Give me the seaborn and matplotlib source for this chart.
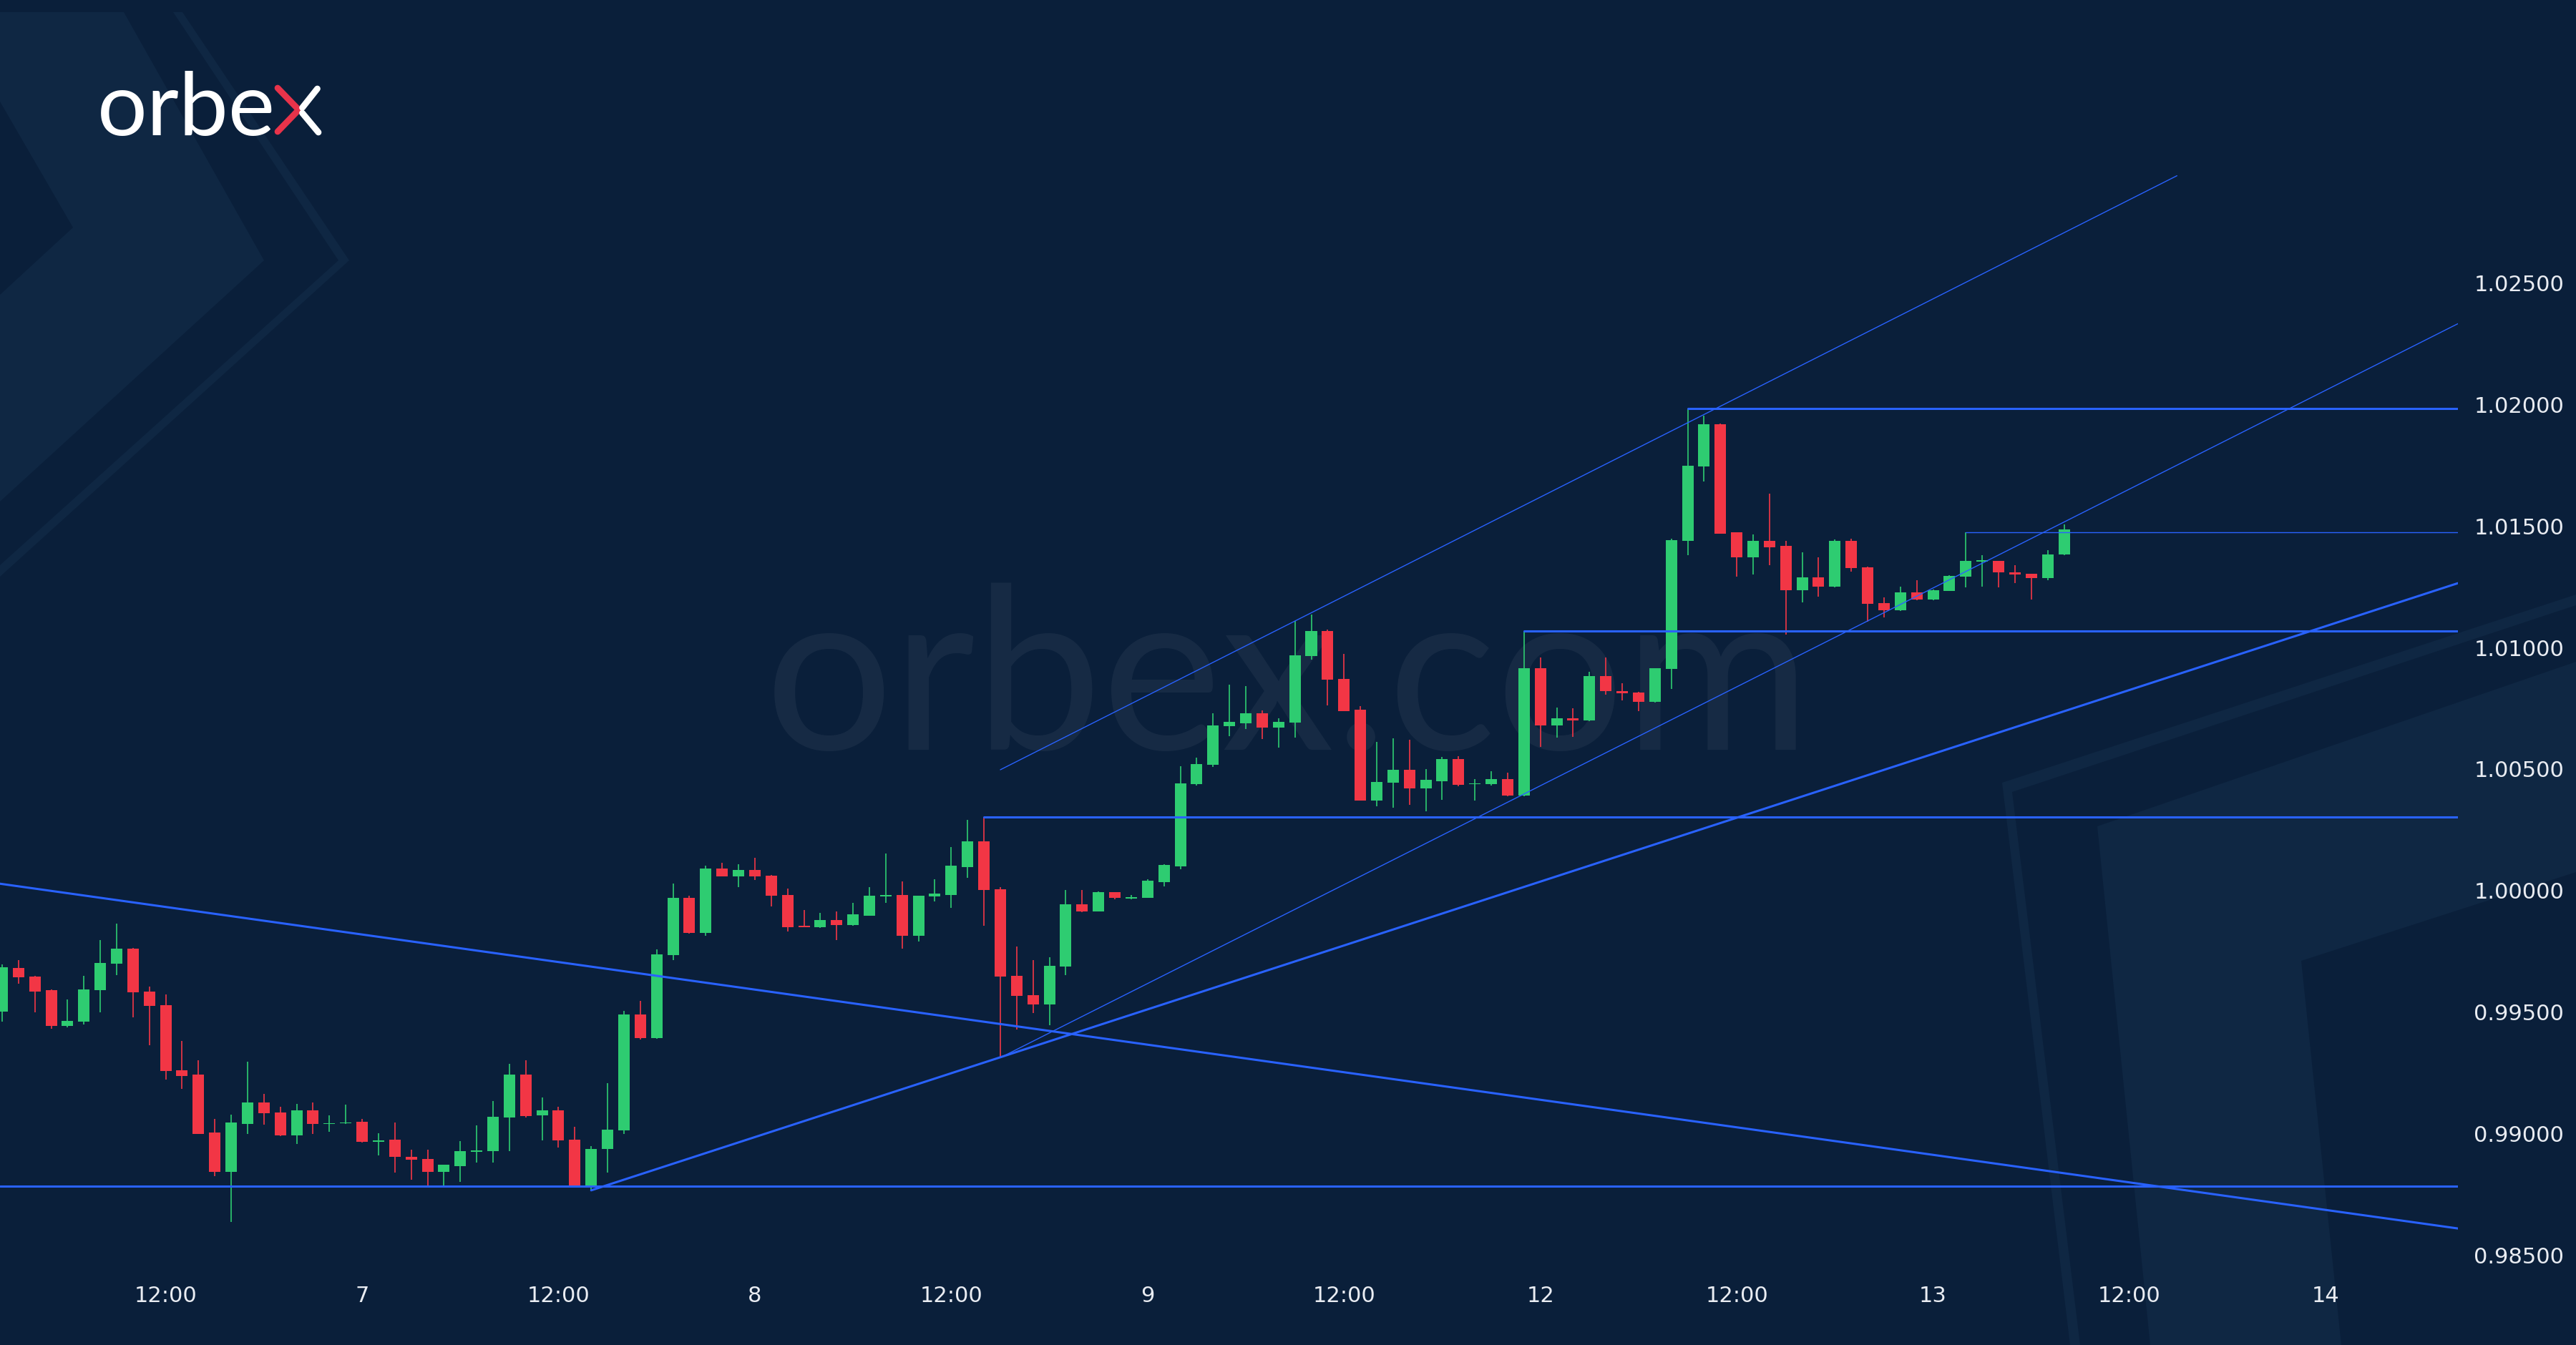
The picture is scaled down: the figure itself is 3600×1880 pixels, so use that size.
import numpy as np
import pandas as pd
import matplotlib
matplotlib.use("Agg")
import matplotlib.pyplot as plt
from matplotlib.patches import Polygon
from matplotlib.lines import Line2D
import seaborn as sns

# %% hourly EUR/USD candles, 6 Sep 02:00 -> 13 Sep 08:00
opens = [0.99498, 0.99679, 0.99642, 0.99586, 0.99439, 0.99456, 0.99588, 0.99695, 0.99759, 0.99582,
         0.99526, 0.99257, 0.99240, 0.99002, 0.98840, 0.99036, 0.99124, 0.99084, 0.98988, 0.99092,
         0.99036, 0.99039, 0.99045, 0.98964, 0.98972, 0.98902, 0.98893, 0.98840, 0.98862, 0.98921,
         0.98923, 0.99064, 0.99240, 0.99073, 0.99092, 0.98972, 0.98780, 0.98932, 0.99011, 0.99487,
         0.99391, 0.99730, 0.99967, 0.99821, 1.00088, 1.00055, 1.00083, 1.00057, 0.99979, 0.99852,
         0.99846, 0.99876, 0.99855, 0.99894, 0.99973, 0.99979, 0.99812, 0.99972, 0.99979, 1.00094,
         1.00198, 1.00002, 0.99647, 0.99565, 0.99529, 0.99684, 0.99941, 0.99911, 0.99989, 0.99965,
         0.99968, 1.00033, 1.00097, 1.00435, 1.00514, 1.00672, 1.00685, 1.00725, 1.00669, 1.00688,
         1.00961, 1.01066, 1.00869, 1.00740, 1.00366, 1.00442, 1.00494, 1.00416, 1.00448, 1.00538,
         1.00434, 1.00435, 1.00455, 1.00389, 1.00911, 1.00675, 1.00705, 1.00698, 1.00881, 1.00819,
         1.00813, 1.00773, 1.00909, 1.01437, 1.01743, 1.01917, 1.01470, 1.01367, 1.01437, 1.01415,
         1.01233, 1.01286, 1.01249, 1.01437, 1.01328, 1.01181, 1.01150, 1.01223, 1.01194, 1.01229,
         1.01289, 1.01352, 1.01355, 1.01308, 1.01302, 1.01283, 1.01381]
highs = [0.99693, 0.99710, 0.99645, 0.99590, 0.99549, 0.99645, 0.99794, 0.99862, 0.99762, 0.99603,
         0.99569, 0.99377, 0.99298, 0.99058, 0.99075, 0.99293, 0.99161, 0.99107, 0.99118, 0.99124,
         0.99071, 0.99115, 0.99058, 0.98998, 0.99043, 0.98929, 0.98929, 0.98867, 0.98966, 0.99031,
         0.99131, 0.99284, 0.99298, 0.99146, 0.99107, 0.99025, 0.98946, 0.99205, 0.99501, 0.99543,
         0.99755, 1.00027, 0.99977, 1.00100, 1.00111, 1.00106, 1.00132, 1.00060, 1.00005, 0.99916,
         0.99904, 0.99911, 0.99945, 1.00011, 1.00149, 1.00035, 0.99976, 1.00042, 1.00176, 1.00289,
         1.00300, 1.00011, 0.99767, 0.99712, 0.99722, 0.99999, 0.99999, 0.99993, 0.99989, 0.99980,
         1.00042, 1.00106, 1.00508, 1.00543, 1.00725, 1.00845, 1.00839, 1.00738, 1.00707, 1.01106,
         1.01132, 1.01070, 1.00970, 1.00757, 1.00609, 1.00623, 1.00617, 1.00498, 1.00547, 1.00550,
         1.00455, 1.00488, 1.00481, 1.01066, 1.00955, 1.00751, 1.00747, 1.00898, 1.00955, 1.00849,
         1.00815, 1.00913, 1.01444, 1.01980, 1.01952, 1.01920, 1.01470, 1.01463, 1.01630, 1.01437,
         1.01388, 1.01367, 1.01441, 1.01444, 1.01330, 1.01204, 1.01249, 1.01275, 1.01236, 1.01295,
         1.01470, 1.01378, 1.01355, 1.01336, 1.01302, 1.01398, 1.01503]
lows = [0.99456, 0.99614, 0.99496, 0.99428, 0.99435, 0.99447, 0.99496, 0.99648, 0.99474, 0.99360,
        0.99220, 0.99180, 0.98994, 0.98820, 0.98633, 0.98996, 0.99034, 0.98985, 0.98955, 0.98996,
        0.99005, 0.99036, 0.98960, 0.98906, 0.98836, 0.98808, 0.98780, 0.98780, 0.98797, 0.98876,
        0.98876, 0.98923, 0.99062, 0.98968, 0.98940, 0.98780, 0.98763, 0.98836, 0.98996, 0.99383,
        0.99386, 0.99712, 0.99819, 0.99812, 1.00055, 1.00011, 1.00039, 0.99932, 0.99828, 0.99845,
        0.99843, 0.99794, 0.99853, 0.99894, 0.99946, 0.99757, 0.99788, 0.99952, 0.99926, 1.00050,
        0.99852, 0.99309, 0.99425, 0.99492, 0.99443, 0.99648, 0.99907, 0.99911, 0.99962, 0.99960,
        0.99968, 1.00015, 1.00084, 1.00430, 1.00505, 1.00633, 1.00663, 1.00619, 1.00584, 1.00626,
        1.00948, 1.00760, 1.00735, 1.00366, 1.00343, 1.00337, 1.00350, 1.00324, 1.00370, 1.00426,
        1.00366, 1.00430, 1.00385, 1.00385, 1.00589, 1.00626, 1.00629, 1.00694, 1.00804, 1.00780,
        1.00734, 1.00770, 1.00826, 1.01378, 1.01680, 1.01465, 1.01288, 1.01299, 1.01336, 1.01049,
        1.01183, 1.01207, 1.01245, 1.01309, 1.01104, 1.01121, 1.01148, 1.01191, 1.01191, 1.01229,
        1.01244, 1.01249, 1.01244, 1.01262, 1.01194, 1.01275, 1.01378]
closes = [0.99682, 0.99640, 0.99582, 0.99439, 0.99460, 0.99589, 0.99698, 0.99759, 0.99578, 0.99522,
          0.99253, 0.99234, 0.98996, 0.98840, 0.99041, 0.99124, 0.99079, 0.98988, 0.99092, 0.99036,
          0.99039, 0.99043, 0.98963, 0.98969, 0.98902, 0.98890, 0.98840, 0.98867, 0.98923, 0.98926,
          0.99067, 0.99240, 0.99070, 0.99092, 0.98968, 0.98780, 0.98932, 0.99014, 0.99487, 0.99391,
          0.99733, 0.99967, 0.99821, 1.00088, 1.00055, 1.00083, 1.00055, 0.99977, 0.99846, 0.99847,
          0.99876, 0.99855, 0.99898, 0.99976, 0.99979, 0.99812, 0.99976, 0.99984, 1.00098, 1.00198,
          0.99998, 0.99644, 0.99562, 0.99529, 0.99688, 0.99941, 0.99911, 0.99989, 0.99968, 0.99968,
          1.00038, 1.00103, 1.00439, 1.00517, 1.00677, 1.00692, 1.00725, 1.00669, 1.00692, 1.00964,
          1.01066, 1.00865, 1.00735, 1.00366, 1.00444, 1.00494, 1.00416, 1.00452, 1.00538, 1.00431,
          1.00439, 1.00455, 1.00389, 1.00912, 1.00675, 1.00705, 1.00698, 1.00881, 1.00817, 1.00809,
          1.00773, 1.00911, 1.01440, 1.01746, 1.01917, 1.01467, 1.01367, 1.01437, 1.01411, 1.01233,
          1.01286, 1.01249, 1.01437, 1.01323, 1.01177, 1.01150, 1.01223, 1.01194, 1.01233, 1.01292,
          1.01354, 1.01355, 1.01308, 1.01299, 1.01283, 1.01381, 1.01483]

# time axis (candle index of each label)
time_ticks = [10, 22, 34, 46, 58, 70, 82, 94, 106, 118, 130, 142]
time_labels = ["12:00", "7", "12:00", "8", "12:00", "9", "12:00", "12", "12:00", "13", "12:00", "14"]
price_ticks = [0.985, 0.990, 0.995, 1.000, 1.005, 1.010, 1.015, 1.020, 1.025]

# analyst drawings: anchor points (candle index, price)
draw_names = ["falling_trend", "support", "rising_trend", "channel_low", "channel_high",
              "level_1", "level_2", "level_3", "level_4"]
draw_x0 = [-0.13, -0.13, 36, 61, 61, 60, 93, 103, 120]
draw_p0 = [1.00025, 0.98780, 0.98763, 0.99309, 1.00494, 1.00300, 1.01066, 1.01980, 1.01470]
draw_x1 = [150.07, 150.07, 150.07, 150.07, 132.9, 150.07, 150.07, 150.07, 150.07]
draw_p1 = [0.98606, 0.98780, 1.01262, 1.02330, 1.02939, 1.00300, 1.01066, 1.01980, 1.01470]
thin_lines = {"channel_low", "channel_high", "level_4"}

# %% style
BG = "#0a1f3a"
SHAPE = "#0f2743"
BLUE = "#2962ff"
UP = "#2ecc71"
DOWN = "#f23645"
TXT = "#e9ecf2"
W, H = 3600, 1881

sns.set_theme(style="dark", rc={"axes.facecolor": "none", "figure.facecolor": BG,
                                "axes.grid": False})
plt.rcParams["font.family"] = ["DejaVu Sans"]

fig = plt.figure(figsize=(W / 100, H / 100), dpi=100)
fig.patch.set_facecolor(BG)


def fxy(pts):
    return [(x / W, 1 - y / H) for x, y in pts]


# background chevrons (pixel coords)
bg_shapes = [
    [(0, 18), (173, 18), (369, 365), (0, 702), (0, 413), (102, 319), (0, 143)],
    [(255, 18), (488, 365), (0, 807), (0, 791), (473, 365), (242, 18)],
    [(3600, 832), (2798, 1095), (2893, 1881), (2907, 1881), (2812, 1108), (3600, 847)],
    [(3600, 926), (2931, 1156), (3005, 1881), (3272, 1881), (3216, 1344), (3600, 1220)],
]
for pts in bg_shapes:
    fig.patches.append(Polygon(fxy(pts), closed=True, transform=fig.transFigure,
                               facecolor=SHAPE, edgecolor="none", zorder=-3))

# watermark
wm = fig.text(0.5, 1 - 1048 / H, "orbex.com", ha="center", va="baseline",
              fontsize=230, color="white", alpha=0.05, family=["Lato", "DejaVu Sans"],
              fontweight="normal", zorder=-2)

# logo
logo = fig.text(136 / W, 1 - 189 / H, "orbe", ha="left", va="baseline", fontsize=95,
                color="white", family=["Lato", "DejaVu Sans"], zorder=5)
x_red = [(388, 124), (417.5, 154.5), (388, 185)]
x_white = [[(443.5, 125), (422.5, 151.5)], [(422.5, 159), (445, 186)]]
for pts, col in [(x_red, "#e8334a")] + [(p, "white") for p in x_white]:
    p = fxy(pts)
    fig.lines.append(Line2D([a for a, b in p], [b for a, b in p], transform=fig.transFigure,
                            color=col, lw=6.3, solid_capstyle="round",
                            solid_joinstyle="round", zorder=5))

# %% chart
ax = fig.add_axes([0, 1 - 1775 / H, 3435 / W, 1775 / H])
ax.set_facecolor("none")

df = pd.DataFrame({"open": opens, "high": highs, "low": lows, "close": closes})
df["x"] = np.arange(len(df))
df["color"] = np.where(df["close"] >= df["open"], UP, DOWN)
body_lo = df[["open", "close"]].min(axis=1)
body_h = (df["close"] - df["open"]).abs().clip(lower=0.00004)

ax.vlines(df["x"], df["low"], df["high"], colors=df["color"], lw=1.2, zorder=2)
ax.bar(df["x"], body_h, bottom=body_lo, width=0.7, color=df["color"], linewidth=0, zorder=3)

rows = []
for n, x0, p0, x1, p1 in zip(draw_names, draw_x0, draw_p0, draw_x1, draw_p1):
    rows += [{"line": n, "x": x0, "price": p0}, {"line": n, "x": x1, "price": p1}]
lines_df = pd.DataFrame(rows)
thick_df = lines_df[~lines_df["line"].isin(thin_lines)]
thin_df = lines_df[lines_df["line"].isin(thin_lines)]
sns.lineplot(data=thick_df, x="x", y="price", units="line", estimator=None,
             color=BLUE, lw=2.2, ax=ax, zorder=4)
sns.lineplot(data=thin_df, x="x", y="price", units="line", estimator=None,
             color=BLUE, lw=1.0, ax=ax, zorder=4)

ax.set_xlim(-0.127, 150.07)
ax.set_ylim(0.984385, 1.036652)
ax.set_xlabel("")
ax.set_ylabel("")
ax.set_xticks(time_ticks, time_labels)
ax.yaxis.tick_right()
ax.set_yticks(price_ticks, [f"{p:.5f}" for p in price_ticks])
ax.tick_params(axis="x", length=0, pad=16, labelsize=22, labelcolor=TXT)
ax.tick_params(axis="y", length=0, pad=16, labelsize=22, labelcolor=TXT)
for s in ax.spines.values():
    s.set_visible(False)
ax.grid(False)

# fit logo and watermark widths
fig.canvas.draw()
r = fig.canvas.get_renderer()
for t, target in [(wm, 1462), (logo, 249)]:
    bb = t.get_window_extent(r)
    t.set_fontsize(t.get_fontsize() * target / bb.width)

fig.savefig("out.png", dpi=100, facecolor=BG)
